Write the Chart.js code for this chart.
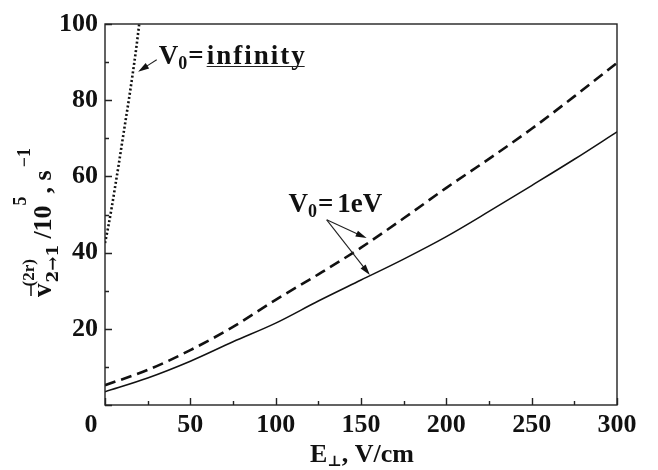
<!DOCTYPE html>
<html>
<head>
<meta charset="utf-8">
<script src="https://cdn.jsdelivr.net/npm/chart.js@4"></script>
<style>
  html, body { margin: 0; padding: 0; background: #fff; }
  #wrap { width: 658px; height: 470px; }
</style>
</head>
<body>
<div id="wrap"><canvas id="grafico" width="658" height="470"></canvas></div>
<script>
// valores
const campoE = [0, 25, 50, 75, 100, 125, 150, 175, 200, 225, 250, 275, 300];
const tasaSolida = [3.5, 7.1, 11.5, 16.6, 21.5, 27.3, 32.8, 38.3, 44.2, 50.8, 57.6, 64.5, 71.7];
const tasaDiscontinua = [5.2, 9.2, 14.4, 20.5, 27.6, 34.3, 41.3, 49.0, 57.0, 64.6, 72.5, 81.0, 89.8];
const campoInf = [0, 2, 4, 6, 8, 10, 12, 14, 16, 18, 20, 21];
const tasaInf = [42.5, 47, 52, 57.5, 63, 68.8, 74.5, 80.2, 86.2, 92.6, 99.8, 103.5];
const ticksX = [0, 50, 100, 150, 200, 250, 300];
const ticksY = [20, 40, 60, 80, 100];

const FUENTE = '"Liberation Serif", "Times New Roman", serif';

function puntos(xs, ys) {
    return xs.map((x, i) => ({ x: x, y: ys[i] }));
}

// flecha con punta rellena
function flecha(ctx, x1, y1, x2, y2) {
    const ang = Math.atan2(y2 - y1, x2 - x1);
    const largo = 11, ancho = 3.2;
    ctx.beginPath();
    ctx.moveTo(x1, y1);
    ctx.lineTo(x2 - Math.cos(ang) * largo * 0.8, y2 - Math.sin(ang) * largo * 0.8);
    ctx.stroke();
    ctx.beginPath();
    ctx.moveTo(x2, y2);
    ctx.lineTo(x2 - Math.cos(ang) * largo - Math.sin(ang) * ancho, y2 - Math.sin(ang) * largo + Math.cos(ang) * ancho);
    ctx.lineTo(x2 - Math.cos(ang) * largo + Math.sin(ang) * ancho, y2 - Math.sin(ang) * largo - Math.cos(ang) * ancho);
    ctx.closePath();
    ctx.fill();
}

// "V" con subíndice 0 y luego "="
function textoV0(ctx, x, y) {
    ctx.font = 'bold 27px ' + FUENTE;
    ctx.fillText('V', x, y);
    let px = x + ctx.measureText('V').width;
    ctx.font = 'bold 18px ' + FUENTE;
    ctx.fillText('0', px, y + 5);
    px += ctx.measureText('0').width + 1;
    ctx.font = 'bold 27px ' + FUENTE;
    ctx.fillText('=', px, y);
    return px + ctx.measureText('=').width;
}

const decoracion = {
    id: 'decoracion',
    afterDraw(chart) {
        const ctx = chart.ctx;
        const a = chart.chartArea;
        const sx = chart.scales.x, sy = chart.scales.y;
        ctx.save();
        ctx.strokeStyle = '#222';
        ctx.fillStyle = '#111';
        ctx.lineWidth = 1.4;
        ctx.strokeRect(a.left, a.top, a.right - a.left, a.bottom - a.top);

        // marcas hacia dentro
        ctx.beginPath();
        for (let v = 0; v <= 300; v += 25) {
            const px = Math.round(sx.getPixelForValue(v)) + 0.5;
            const l = v % 50 === 0 ? 7 : 4;
            ctx.moveTo(px, a.bottom);
            ctx.lineTo(px, a.bottom - l);
        }
        for (let v = 0; v <= 100; v += 10) {
            const py = Math.round(sy.getPixelForValue(v)) + 0.5;
            const l = v % 20 === 0 ? 7 : 4;
            ctx.moveTo(a.left, py);
            ctx.lineTo(a.left + l, py);
        }
        ctx.stroke();

        // "0" de la esquina
        ctx.font = 'bold 26px ' + FUENTE;
        ctx.textAlign = 'center';
        ctx.textBaseline = 'alphabetic';
        ctx.fillText('0', a.left - 14, a.bottom + 27);
        ctx.textAlign = 'left';

        // anotaciones
        ctx.lineWidth = 1.1;
        let tx = sx.getPixelForValue(31.5), ty = sy.getPixelForValue(89.5);
        let fin = textoV0(ctx, tx, ty) + 3;
        ctx.font = 'bold 27px ' + FUENTE;
        ctx.letterSpacing = '2px';
        ctx.fillText('infinity', fin, ty);
        const wInf = ctx.measureText('infinity').width - 2;
        ctx.letterSpacing = '0px';
        ctx.beginPath();
        ctx.moveTo(fin, ty + 2.5);
        ctx.lineTo(fin + wInf, ty + 2.5);
        ctx.stroke();
        flecha(ctx, sx.getPixelForValue(30.3), sy.getPixelForValue(90.6),
                    sx.getPixelForValue(19.4), sy.getPixelForValue(87.5));

        tx = sx.getPixelForValue(107.5); ty = sy.getPixelForValue(50.7);
        fin = textoV0(ctx, tx, ty) + 4;
        ctx.font = 'bold 27px ' + FUENTE;
        ctx.fillText('1eV', fin, ty);
        const ox = sx.getPixelForValue(129.9), oy = sy.getPixelForValue(48.6);
        flecha(ctx, ox, oy, sx.getPixelForValue(153.3), sy.getPixelForValue(43.8));
        flecha(ctx, ox, oy, sx.getPixelForValue(155.2), sy.getPixelForValue(34.1));

        // título eje x: E⊥, V/cm
        ctx.font = 'bold 26px ' + FUENTE;
        let xx = 310, yb = 462;
        ctx.fillText('E', xx, yb);
        xx += ctx.measureText('E').width;
        ctx.font = 'bold 15px "DejaVu Serif", ' + FUENTE;
        ctx.fillText('\u22A5', xx, yb + 4);
        xx += ctx.measureText('\u22A5').width;
        ctx.font = 'bold 26px ' + FUENTE;
        ctx.fillText(', V/cm', xx, yb);

        // título eje y rotado
        ctx.translate(51, 297);
        ctx.rotate(-Math.PI / 2);
        ctx.font = 'bold 27px ' + FUENTE;
        ctx.fillText('v', 0, 0);
        const wv = ctx.measureText('v').width;
        ctx.lineWidth = 1.6;
        ctx.beginPath();
        ctx.moveTo(1, -20);
        ctx.lineTo(wv - 1, -20);
        ctx.stroke();
        ctx.font = 'bold 17px ' + FUENTE;
        ctx.fillText('(2r)', wv - 3, -17);
        const wSup = ctx.measureText('(2r)').width;
        ctx.font = 'bold 17px "DejaVu Serif", ' + FUENTE;
        ctx.fillText('2\u21921', wv + 1, 7);
        const wSub = ctx.measureText('2\u21921').width;
        let p = Math.max(wv - 3 + wSup, wv + 1 + wSub) + 6;
        ctx.font = 'bold 26px ' + FUENTE;
        ctx.fillText('/10', p, 0);
        p += ctx.measureText('/10').width;
        ctx.font = 'bold 18px ' + FUENTE;
        ctx.fillText('5', p, -25);
        p += ctx.measureText('5').width + 3;
        ctx.font = 'bold 26px ' + FUENTE;
        ctx.fillText(', s', p, 0);
        p += ctx.measureText(', s').width + 3;
        ctx.font = 'bold 18px ' + FUENTE;
        ctx.fillText('\u22121', p, -21);
        ctx.restore();
    }
};

new Chart(document.getElementById('grafico').getContext('2d'), {
    type: 'line',
    data: {
        datasets: [
            {
                data: puntos(campoE, tasaSolida),
                borderColor: '#111',
                borderWidth: 1.5,
                pointRadius: 0,
                cubicInterpolationMode: 'monotone'
            },
            {
                data: puntos(campoE, tasaDiscontinua),
                borderColor: '#111',
                borderWidth: 2.6,
                borderDash: [11, 6],
                pointRadius: 0,
                cubicInterpolationMode: 'monotone'
            },
            {
                data: puntos(campoInf, tasaInf),
                borderColor: '#111',
                borderWidth: 2.6,
                borderDash: [2, 2.3],
                pointRadius: 0,
                cubicInterpolationMode: 'monotone'
            }
        ]
    },
    options: {
        responsive: false,
        animation: false,
        layout: { padding: { left: 0, right: 41, top: 24, bottom: 0 } },
        plugins: { legend: { display: false }, tooltip: { enabled: false } },
        scales: {
            x: {
                type: 'linear',
                min: 0, max: 300,
                afterBuildTicks: (s) => { s.ticks = ticksX.map(v => ({ value: v })); },
                afterFit: (s) => { s.height = 65; },
                grid: { display: false, drawTicks: false },
                border: { display: false },
                ticks: {
                    padding: 5,
                    color: '#111',
                    font: { family: FUENTE, size: 26, weight: 'bold' },
                    callback: (v) => (v === 0 ? '' : String(v))
                }
            },
            y: {
                type: 'linear',
                min: 0, max: 100,
                afterBuildTicks: (s) => { s.ticks = ticksY.map(v => ({ value: v })); },
                afterFit: (s) => { s.width = 105; },
                grid: { display: false, drawTicks: false },
                border: { display: false },
                ticks: {
                    padding: 7,
                    color: '#111',
                    font: { family: FUENTE, size: 26, weight: 'bold' }
                }
            }
        }
    },
    plugins: [decoracion]
});
</script>
</body>
</html>
